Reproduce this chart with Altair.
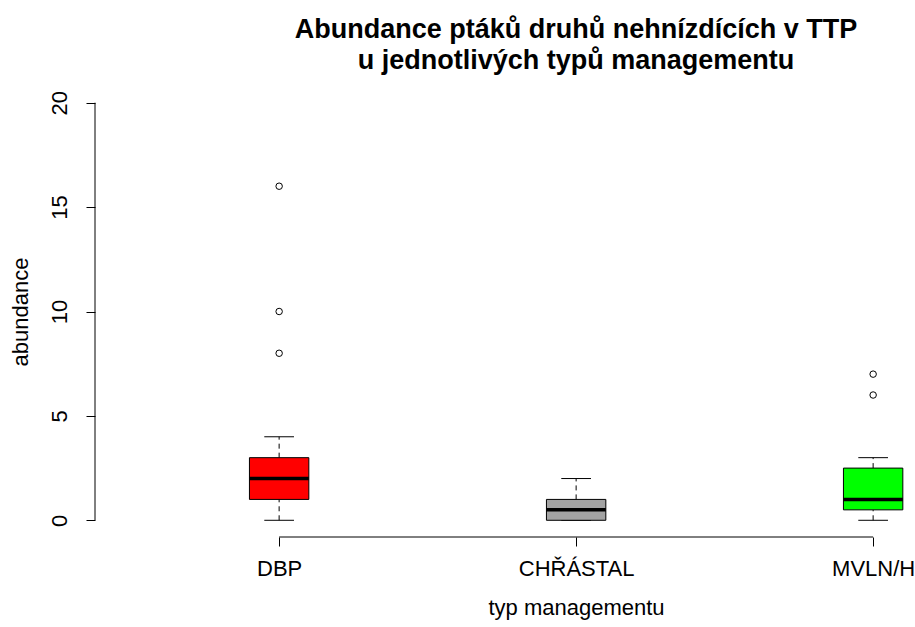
import altair as alt
import pandas as pd

# ---- data ----
groups = ["DBP", "CHŘÁSTAL", "MVLN/H"]
whisker_low = [0, 0, 0]
q1 = [1, 0, 0.5]
median = [2, 0.5, 1]
q3 = [3, 1, 2.5]
whisker_high = [4, 2, 3]
box_colors = ["#FF0000", "#A3A3A3", "#00FF00"]

outlier_group = ["DBP", "DBP", "DBP", "MVLN/H", "MVLN/H"]
outlier_value = [8, 10, 16, 6, 7]

y_ticks = [0, 5, 10, 15, 20]

title_lines = ["Abundance ptáků druhů nehnízdících v TTP",
               "u jednotlivých typů managementu"]
x_title = "typ managementu"
y_title = "abundance"

# ---- tables ----
stats = pd.DataFrame({
    "group": groups,
    "pos": list(range(1, len(groups) + 1)),
    "lo": whisker_low, "q1": q1, "med": median, "q3": q3, "hi": whisker_high,
})
pos_of = {g: i + 1 for i, g in enumerate(groups)}
outs = pd.DataFrame({
    "group": outlier_group,
    "pos": [pos_of[g] for g in outlier_group],
    "value": outlier_value,
})

W, H = 820, 451
FONT = "Liberation Sans"
FS = 22

label_expr = " : ".join(
    [f"datum.value == {i + 1} ? '{g}'" for i, g in enumerate(groups)] + ["''"]
)

xscale = alt.Scale(domain=[0.38, 0.38 + 820 / 297], nice=False, zero=False)
yscale = alt.Scale(domain=[-0.8, 20.8], nice=False, zero=False)

xaxis = alt.Axis(
    values=list(range(1, len(groups) + 1)), labelExpr=label_expr,
    domain=False, grid=False, ticks=True, tickSize=9, tickColor="black",
    labelFontSize=FS, labelColor="black", labelFont=FONT, labelPadding=12,
    labelFlush=False, labelOverlap=False,
    title=x_title, titleFontSize=FS, titleFont=FONT, titleFontWeight="normal",
    titleColor="black", titleX=481, titleY=70, titleAlign="center",
    titleBaseline="middle",
)
yaxis = alt.Axis(
    values=y_ticks, domain=False, grid=False, ticks=True, tickSize=9,
    tickColor="black", labelFontSize=FS, labelColor="black", labelFont=FONT,
    labelAngle=270, labelAlign="center", labelBaseline="bottom", labelPadding=15,
    title=y_title, titleFontSize=FS, titleFont=FONT, titleFontWeight="normal",
    titleColor="black", titleAngle=270, titleX=-75, titleY=H / 2,
    titleAlign="center", titleBaseline="middle",
)

color = alt.Color("group:N", scale=alt.Scale(domain=groups, range=box_colors), legend=None)

base = alt.Chart(stats).transform_calculate(
    xl="datum.pos - 0.1", xr="datum.pos + 0.1",
    sl="datum.pos - 0.05", sr="datum.pos + 0.05",
)

whisk_lo = base.mark_rule(color="black", strokeDash=[5, 4], strokeWidth=1).encode(
    x=alt.X("pos:Q", scale=xscale, axis=xaxis),
    y=alt.Y("lo:Q", scale=yscale, axis=yaxis),
    y2="q1:Q",
)
whisk_hi = base.mark_rule(color="black", strokeDash=[5, 4], strokeWidth=1).encode(
    x="pos:Q", y="q3:Q", y2="hi:Q",
)
staple_lo = base.mark_rule(color="black", strokeWidth=1).encode(
    x="sl:Q", x2="sr:Q", y="lo:Q",
)
staple_hi = base.mark_rule(color="black", strokeWidth=1).encode(
    x="sl:Q", x2="sr:Q", y="hi:Q",
)
box = base.mark_rect(stroke="black", strokeWidth=1).encode(
    x="xl:Q", x2="xr:Q", y="q1:Q", y2="q3:Q", color=color,
)
med = base.mark_rule(color="black", strokeWidth=3.5).encode(
    x="xl:Q", x2="xr:Q", y="med:Q",
)
pts = alt.Chart(outs).mark_point(
    shape="circle", filled=False, color="black", strokeWidth=1, size=42, opacity=1
).encode(x="pos:Q", y="value:Q")

ends = pd.DataFrame({"a": [y_ticks[0]], "b": [y_ticks[-1]], "c": [1], "d": [len(groups)]})
yline = alt.Chart(ends).mark_rule(color="black", strokeWidth=1).encode(
    x=alt.value(0), y="a:Q", y2="b:Q",
)
xline = alt.Chart(ends).mark_rule(color="black", strokeWidth=1).encode(
    y=alt.value(H), x="c:Q", x2="d:Q",
)

chart = alt.layer(
    whisk_lo, whisk_hi, staple_lo, staple_hi, box, med, pts, yline, xline
).properties(
    width=W, height=H,
    autosize=alt.AutoSizeParams(type="none"),
    padding={"left": 95, "top": 86, "right": 0, "bottom": 90},
    background="white",
    title=alt.TitleParams(
        text=title_lines, fontSize=27, fontWeight="bold", font=FONT, color="black",
        anchor="middle", dx=71, offset=11, lineHeight=31,
    ),
).configure_view(stroke=None)

chart.save("out.html", embed_options={"renderer": "svg", "actions": False})
